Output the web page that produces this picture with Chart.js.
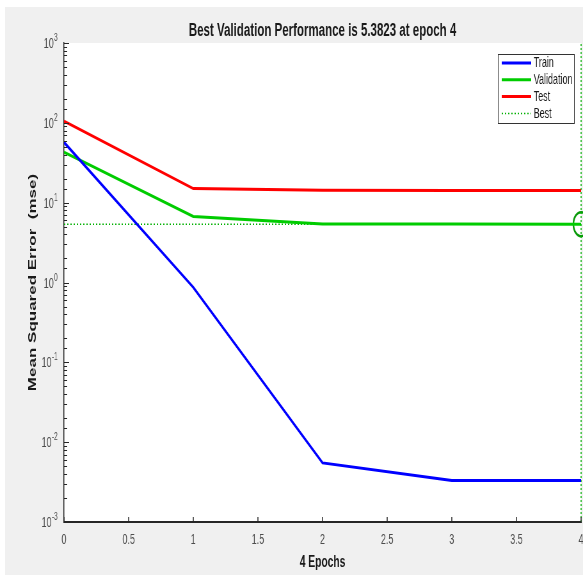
<!DOCTYPE html>
<html>
<head>
<meta charset="utf-8">
<script src="https://cdn.jsdelivr.net/npm/chart.js@4.4.1/dist/chart.umd.min.js"></script>
<style>
  html, body { margin: 0; padding: 0; background: #ffffff; overflow: hidden; }
  #perf { display: block; }
</style>
</head>
<body>
<canvas id="perf" width="911" height="575" style="width:583px;height:575px"></canvas>
<script>
// Training record: mean squared error per epoch
const epochs = [0, 1, 2, 3, 4];
const trainMse = [57, 0.87, 0.0055, 0.0033, 0.0033];
const validationMse = [43, 6.7, 5.4, 5.39, 5.3823];
const testMse = [105, 15, 14.3, 14.2, 14.2];
const bestEpoch = 4;
const bestValue = 5.3823;
const xTicks = [0, 0.5, 1, 1.5, 2, 2.5, 3, 3.5, 4];
const yDecades = [-3, -2, -1, 0, 1, 2, 3];

const FONT = "'Liberation Sans', Arial, sans-serif";
const toPoints = (ys) => epochs.map((e, i) => ({ x: e, y: ys[i] }));

// Figure background, plot box, tick marks, decade labels, legend
const figurePlugin = {
  id: 'figure',
  beforeDraw(chart) {
    const { ctx, width, height, chartArea: a } = chart;
    ctx.save();
    ctx.fillStyle = '#ffffff';
    ctx.fillRect(0, 0, width, height);
    ctx.fillStyle = '#f0f0f0';
    ctx.fillRect(8, 7, width - 8, height - 7);
    ctx.fillStyle = '#ffffff';
    ctx.fillRect(a.left, a.top, a.right - a.left, a.bottom - a.top);
    ctx.restore();
  },
  afterDraw(chart) {
    const { ctx, chartArea: a } = chart;
    const xs = chart.scales.x, ys = chart.scales.y;
    ctx.save();
    ctx.strokeStyle = '#262626';
    // inward x ticks
    ctx.lineWidth = 1.5;
    xTicks.forEach(v => {
      const px = xs.getPixelForValue(v);
      ctx.beginPath();
      ctx.moveTo(px, a.bottom);
      ctx.lineTo(px, a.bottom - 5);
      ctx.stroke();
    });
    // inward y ticks, major at decades and minor between
    ctx.lineWidth = 1;
    ys.ticks.forEach(t => {
      const lg = Math.log10(t.value);
      const major = Math.abs(lg - Math.round(lg)) < 1e-9;
      const py = Math.round(ys.getPixelForValue(t.value)) + 0.5;
      ctx.beginPath();
      ctx.moveTo(a.left, py);
      ctx.lineTo(a.left + (major ? 8 : 5), py);
      ctx.stroke();
    });
    // decade labels 10^n
    ctx.fillStyle = '#4d4d4d';
    ctx.textBaseline = 'alphabetic';
    yDecades.forEach(d => {
      const py = ys.getPixelForValue(Math.pow(10, d));
      const exp = String(d);
      ctx.font = '10px ' + FONT;
      const expW = ctx.measureText(exp).width;
      const right = a.left - 10;
      ctx.textAlign = 'right';
      ctx.fillText(exp, right, py - 2);
      ctx.font = '14px ' + FONT;
      ctx.fillText('10', right - expW - 0.5, py + 5);
    });
    // legend
    const items = chart.data.datasets.filter(ds => ds.showInLegend);
    const bx = 778, by = 54, bw = 119, bh = 69;
    ctx.fillStyle = '#ffffff';
    ctx.fillRect(bx, by, bw, bh);
    ctx.strokeStyle = '#333333';
    ctx.lineWidth = 1;
    ctx.strokeRect(bx + 0.5, by + 0.5, bw, bh);
    items.forEach((ds, i) => {
      const cy = by + 9 + i * 16.8;
      ctx.strokeStyle = ds.borderColor;
      ctx.lineWidth = ds.legendWidth;
      ctx.setLineDash(ds.borderDash || []);
      ctx.beginPath();
      ctx.moveTo(bx + 6, cy);
      ctx.lineTo(bx + 52, cy);
      ctx.stroke();
      ctx.setLineDash([]);
      ctx.fillStyle = '#1a1a1a';
      ctx.font = '14px ' + FONT;
      ctx.textAlign = 'left';
      ctx.textBaseline = 'middle';
      ctx.fillText(ds.label, bx + 56, cy + 0.5);
    });
    ctx.restore();
  }
};

const chart = new Chart(document.getElementById('perf'), {
  type: 'line',
  data: {
    datasets: [
      { label: 'Train', data: toPoints(trainMse), borderColor: '#0000ff', borderWidth: 3, legendWidth: 3, showInLegend: true },
      { label: 'Validation', data: toPoints(validationMse), borderColor: '#00cc00', borderWidth: 3, legendWidth: 3, showInLegend: true },
      { label: 'Test', data: toPoints(testMse), borderColor: '#ff0000', borderWidth: 3, legendWidth: 3, showInLegend: true },
      { label: 'Best', data: [{ x: epochs[0], y: bestValue }, { x: bestEpoch, y: bestValue }],
        borderColor: '#00b000', borderWidth: 1.5, borderDash: [2, 3], legendWidth: 1.5, showInLegend: true },
      { label: 'Best epoch', data: [{ x: bestEpoch, y: 1e-3 }, { x: bestEpoch, y: 1e3 }],
        borderColor: '#00b000', borderWidth: 1.5, borderDash: [2, 2], clip: false },
      { label: 'Best point', data: [{ x: bestEpoch, y: bestValue }], showLine: false,
        borderColor: '#0a9a0a', pointBorderColor: '#0a9a0a', pointBackgroundColor: 'rgba(0,0,0,0)',
        pointRadius: 12, pointBorderWidth: 2.5, pointStyle: 'circle', clip: false }
    ]
  },
  options: {
    responsive: false,
    devicePixelRatio: 1,
    animation: false,
    events: [],
    layout: { autoPadding: false, padding: { left: 0, right: 3, top: 0, bottom: 0 } },
    elements: {
      line: { tension: 0, fill: false },
      point: { radius: 0 }
    },
    plugins: {
      legend: { display: false },
      tooltip: { enabled: false },
      title: {
        display: true,
        fullSize: false,
        text: 'Best Validation Performance is ' + bestValue + ' at epoch ' + bestEpoch,
        color: '#1a1a1a',
        font: { family: FONT, size: 18, weight: 'bold', lineHeight: 1.2 },
        padding: { top: 20, bottom: 1.4 }
      }
    },
    scales: {
      x: {
        type: 'linear',
        min: 0,
        max: 4,
        afterBuildTicks(scale) { scale.ticks = xTicks.map(v => ({ value: v })); },
        afterFit(scale) {
          scale.height = 53;
          scale.paddingLeft = 0;
          scale.paddingRight = 0;
        },
        ticks: {
          color: '#4d4d4d',
          font: { family: FONT, size: 14 },
          padding: 10,
          maxRotation: 0,
          autoSkip: false,
          callback: (v) => String(v)
        },
        grid: { drawOnChartArea: false, drawTicks: false },
        border: { color: '#262626', width: 2 },
        title: {
          display: true,
          text: bestEpoch + ' Epochs',
          color: '#1a1a1a',
          font: { family: FONT, size: 16, weight: 'bold', lineHeight: 1.2 },
          padding: { top: 0, bottom: 3 }
        }
      },
      y: {
        type: 'logarithmic',
        min: 1e-3,
        max: 1e3,
        afterFit(scale) {
          scale.width = 100;
          scale.paddingTop = 0;
          scale.paddingBottom = 0;
        },
        ticks: { display: false, autoSkip: false },
        grid: { drawOnChartArea: false, drawTicks: false },
        border: { color: '#262626', width: 1.5 },
        title: {
          display: true,
          text: 'Mean Squared Error  (mse)',
          color: '#1a1a1a',
          font: { family: FONT, size: 17, weight: 'bold', lineHeight: 1.2 },
          padding: { top: 41, bottom: 0 }
        }
      }
    }
  },
  plugins: [figurePlugin]
});
// the figure is laid out wide and shown at 583 px across
chart.canvas.style.width = '583px';
chart.canvas.style.height = '575px';
</script>
</body>
</html>
